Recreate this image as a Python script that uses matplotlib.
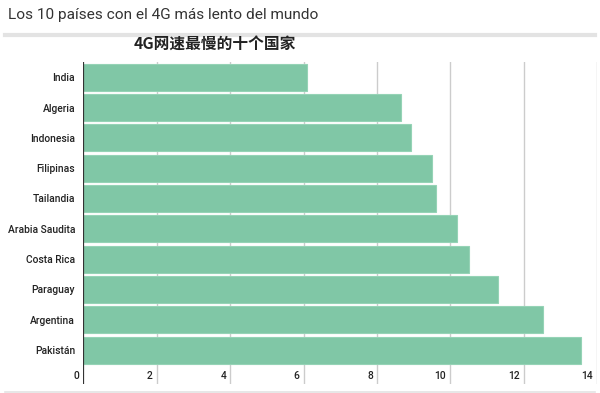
import matplotlib.pyplot as plt
import matplotlib.transforms as mtransforms
from matplotlib.lines import Line2D

# data (4G speed, Mbps)
countries = ["India", "Algeria", "Indonesia", "Filipinas", "Tailandia",
             "Arabia Saudita", "Costa Rica", "Paraguay", "Argentina", "Pakistán"]
speeds = [6.09, 8.66, 8.93, 9.50, 9.60, 10.18, 10.50, 11.31, 12.53, 13.56]
xticks = [0, 2, 4, 6, 8, 10, 12, 14]

fig = plt.figure(figsize=(6, 3.93), dpi=100)
ax = fig.add_axes([0.139, 0.023, 0.856, 0.819])

pos = list(range(len(countries)))
ax.barh(pos, speeds, height=0.89, color="#80c7a6", edgecolor="#95d3b6",
        linewidth=0.8, zorder=2)

ax.set_xlim(0, 14)
ax.set_ylim(10.12, -0.5)
ax.set_yticks(pos)
ax.set_yticklabels(countries, family="Roboto", fontsize=7.4, fontweight="medium",
                   color="#222222")
ax.tick_params(axis="y", length=0, pad=6)
ax.set_xticks([])

for t in xticks[1:]:
    ax.axvline(t, color="#cccccc", linewidth=1, zorder=1)
ax.axvline(0, color="#333333", linewidth=1.6, zorder=3)

# x tick labels sit inside the plot, just left of each gridline
off = mtransforms.offset_copy(ax.transData, fig=fig, x=-4, y=0, units="dots")
for t in xticks:
    ax.text(t, 9.86, str(t), transform=off, ha="right", va="center",
            family="Roboto", fontsize=7.4, fontweight="medium", color="#222222")

for s in ax.spines.values():
    s.set_visible(False)

fig.text(0.013, 0.962, "Los 10 países con el 4G más lento del mundo",
         family="Roboto", fontsize=11.1, color="#333333", va="center")
fig.add_artist(Line2D([0.008, 0.992], [0.911, 0.911], color="#e3e3e3",
                      linewidth=3, transform=fig.transFigure))
fig.add_artist(Line2D([0.008, 0.992], [0.003, 0.003], color="#e3e3e3",
                      linewidth=1.2, transform=fig.transFigure))
fig.text(0.358, 0.885, "4G网速最慢的十个国家", family=["Noto Sans CJK SC", "DejaVu Sans"],
         fontsize=11.3, fontweight="bold", color="#222222", ha="center", va="center")

fig.savefig("out.png", dpi=100)
